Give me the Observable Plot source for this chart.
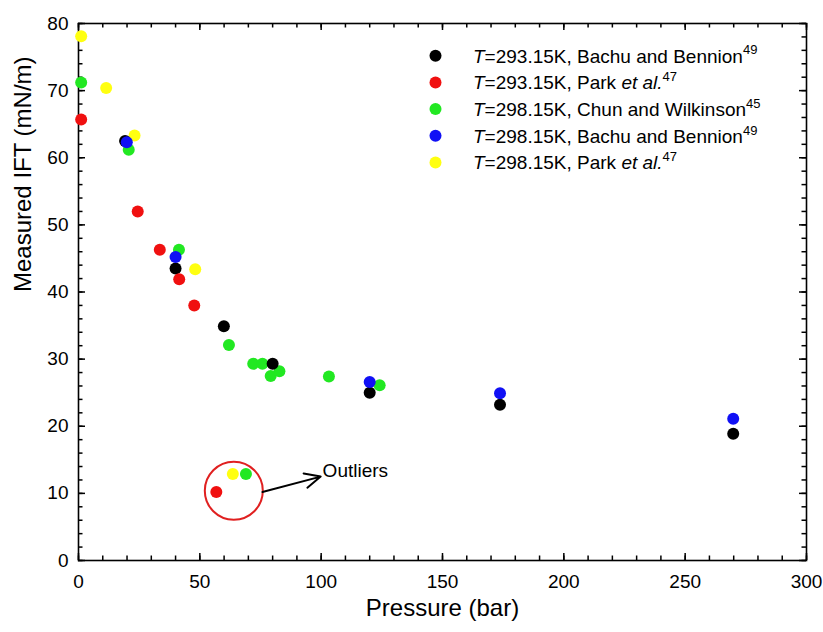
<!DOCTYPE html>
<html>
<head>
<meta charset="utf-8">
<script src="https://cdn.jsdelivr.net/npm/d3@7"></script>
<script src="https://cdn.jsdelivr.net/npm/@observablehq/plot@0.6"></script>
<style>
  body { margin: 0; background: #fff; }
  #chart { width: 823px; height: 632px; }
</style>
</head>
<body>
<div id="chart"></div>
<script>
// Measured CO2–water interfacial tension vs pressure, five literature series
const seriesKeys   = ["bachu293", "park293", "chun298", "bachu298", "park298"];
const seriesColors = ["#000000", "#f01010", "#22e822", "#1010f5", "#ffff10"];

// legend text pieces
const legendTemps   = ["293.15K", "293.15K", "298.15K", "298.15K", "298.15K"];
const legendAuthors = ["Bachu and Bennion", "Park", "Chun and Wilkinson", "Bachu and Bennion", "Park"];
const legendEtAl    = [false, true, false, false, true];
const legendRefs    = ["49", "47", "45", "49", "47"];

// T=293.15K, Bachu and Bennion
const bachu293P   = [19.2, 40.0, 59.9, 80.0, 120.0, 173.7, 269.8];
const bachu293IFT = [62.5, 43.5, 34.9, 29.3, 25.0, 23.2, 18.9];
// T=293.15K, Park et al.
const park293P    = [1.1, 24.4, 33.5, 41.5, 47.7, 56.8];
const park293IFT  = [65.7, 52.0, 46.3, 41.9, 38.0, 10.2];
// T=298.15K, Chun and Wilkinson
const chun298P    = [1.1, 20.7, 41.4, 62.0, 72.0, 75.8, 79.2, 82.8, 103.2, 124.1, 69.0];
const chun298IFT  = [71.2, 61.2, 46.3, 32.1, 29.3, 29.3, 27.5, 28.2, 27.4, 26.1, 12.9];
// T=298.15K, Bachu and Bennion
const bachu298P   = [19.9, 40.0, 120.0, 173.7, 269.8];
const bachu298IFT = [62.3, 45.2, 26.6, 24.9, 21.1];
// T=298.15K, Park et al.
const park298P    = [1.1, 11.4, 23.1, 48.1, 63.6];
const park298IFT  = [78.1, 70.4, 63.3, 43.4, 12.9];

// axis ticks
const xDomain = [0, 300];
const yDomain = [0, 80];
const xMajor = [0, 50, 100, 150, 200, 250, 300];
const xMinor = d3.range(0, 301, 10);
const yMajor = [0, 10, 20, 30, 40, 50, 60, 70, 80];
const yMinor = d3.range(0, 81, 2);

// outlier annotation
const outlierRing  = [{p: 64.0, ift: 10.4}];
const outlierArrow = [{p1: 75.8, ift1: 10.2, p2: 99.8, ift2: 12.5}];
const outlierNote  = [{p: 100.6, ift: 13.4, text: "Outliers"}];

const seriesData = {
  bachu293: [bachu293P, bachu293IFT],
  park293:  [park293P, park293IFT],
  chun298:  [chun298P, chun298IFT],
  bachu298: [bachu298P, bachu298IFT],
  park298:  [park298P, park298IFT]
};
const rows = [];
for (const key of seriesKeys) {
  const [ps, vs] = seriesData[key];
  ps.forEach((p, i) => rows.push({series: key, p, ift: vs[i]}));
}
// paint order for overlapping points
const drawOrder = ["park298", "chun298", "bachu293", "bachu298", "park293"];
rows.sort((a, b) => drawOrder.indexOf(a.series) - drawOrder.indexOf(b.series));

const font = "'Liberation Sans', Arial, Helvetica, sans-serif";

const W = 823, H = 632, mL = 78, mR = 17, mT = 23, mB = 72;
const frameW = W - mL - mR, frameH = H - mT - mB;
// data units per pixel along each axis, for fixed-length tick stubs
const xPerPx = (xDomain[1] - xDomain[0]) / frameW;
const yPerPx = (yDomain[1] - yDomain[0]) / frameH;

// inward-pointing ticks drawn as short rules from each frame edge
function inwardTicks(values, side, size) {
  const tick = {stroke: "#000", strokeWidth: 1.5};
  if (side === "bottom") return Plot.ruleX(values, {x: d => d, y1: yDomain[0], y2: yDomain[0] + size * yPerPx, ...tick});
  if (side === "top")    return Plot.ruleX(values, {x: d => d, y1: yDomain[1], y2: yDomain[1] - size * yPerPx, ...tick});
  if (side === "left")   return Plot.ruleY(values, {y: d => d, x1: xDomain[0], x2: xDomain[0] + size * xPerPx, ...tick});
  return Plot.ruleY(values, {y: d => d, x1: xDomain[1], x2: xDomain[1] - size * xPerPx, ...tick});
}

const chart = Plot.plot({
  width: W,
  height: H,
  marginLeft: mL,
  marginRight: mR,
  marginTop: mT,
  marginBottom: mB,
  style: {fontFamily: font, background: "#fff", color: "#000", overflow: "visible"},
  x: {domain: xDomain, label: null},
  y: {domain: yDomain, label: null},
  color: {domain: seriesKeys, range: seriesColors},
  marks: [
    // tick labels
    Plot.axisX(xMajor, {anchor: "bottom", tickSize: 0, tickPadding: 14, fontSize: 19, label: null}),
    Plot.axisY(yMajor, {anchor: "left", tickSize: 0, tickPadding: 10, fontSize: 19, label: null}),
    Plot.frame({stroke: "#000", strokeWidth: 1.6, fill: "none"}),
    // ticks on all four sides
    inwardTicks(xMajor, "bottom", 7), inwardTicks(xMinor, "bottom", 4.5),
    inwardTicks(xMajor, "top", 7),    inwardTicks(xMinor, "top", 4.5),
    inwardTicks(yMajor, "left", 7),   inwardTicks(yMinor, "left", 4.5),
    inwardTicks(yMajor, "right", 7),  inwardTicks(yMinor, "right", 4.5),
    // axis titles
    Plot.text(["Pressure (bar)"], {frameAnchor: "bottom", dy: 48, fontSize: 24, lineAnchor: "middle"}),
    Plot.text(["Measured IFT (mN/m)"], {frameAnchor: "left", dx: -55, rotate: -90, fontSize: 24, lineAnchor: "middle"}),
    // measurements
    Plot.dot(rows, {x: "p", y: "ift", fill: "series", r: 6, stroke: null}),
    // outlier annotation
    Plot.dot(outlierRing, {x: "p", y: "ift", r: 29, stroke: "#e02020", strokeWidth: 2, fill: "none"}),
    Plot.arrow(outlierArrow, {x1: "p1", y1: "ift1", x2: "p2", y2: "ift2", stroke: "#000", strokeWidth: 2, headLength: 13, headAngle: 50}),
    Plot.text(outlierNote, {x: "p", y: "ift", text: "text", textAnchor: "start", fontSize: 19})
  ]
});

// legend in the upper right of the frame
const svg = d3.select(chart);
const legend = svg.append("g")
  .attr("font-family", font)
  .attr("font-size", 19)
  .attr("text-anchor", "start")
  .attr("fill", "#000");
seriesKeys.forEach((key, i) => {
  const y = 55.7 + 26.7 * i;
  legend.append("circle").attr("cx", 435.5).attr("cy", y).attr("r", 6).attr("fill", seriesColors[i]);
  const t = legend.append("text").attr("x", 473).attr("y", y).attr("dy", "0.36em");
  t.append("tspan").attr("font-style", "italic").text("T");
  t.append("tspan").text(`=${legendTemps[i]}, ${legendAuthors[i]}`);
  if (legendEtAl[i]) {
    t.append("tspan").text(" ");
    t.append("tspan").attr("font-style", "italic").text("et al.");
  }
  t.append("tspan").attr("font-size", 13).attr("dy", "-0.62em").text(legendRefs[i]);
});

document.getElementById("chart").append(chart);
</script>
</body>
</html>
